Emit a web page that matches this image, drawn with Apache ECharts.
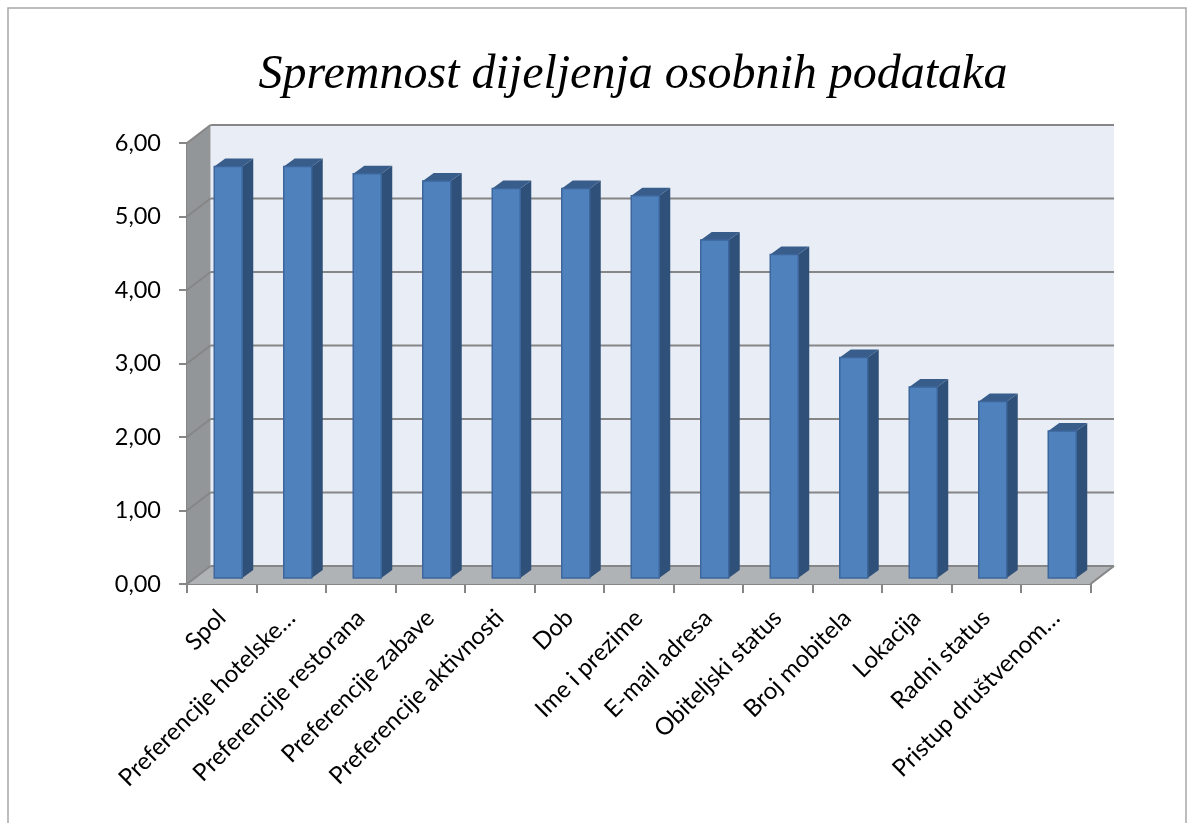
<!DOCTYPE html>
<html><head><meta charset="utf-8">
<style>html,body{margin:0;padding:0;background:#fff}#c{width:1195px;height:823px}</style>
<script src="https://cdn.jsdelivr.net/npm/echarts@6/dist/echarts.min.js"></script>
</head><body><div id="c"></div>
<script>
const categories = ["Spol","Preferencije hotelske…","Preferencije restorana","Preferencije zabave","Preferencije aktivnosti","Dob","Ime i prezime","E-mail adresa","Obiteljski status","Broj mobitela","Lokacija","Radni status","Pristup društvenom…"];
const values = [5.6,5.6,5.5,5.4,5.3,5.3,5.2,4.6,4.4,3.0,2.6,2.4,2.0];
const titleText = "Spremnost dijeljenja osobnih podataka";
const yTicks = [0,1,2,3,4,5,6];
const GRAY = "#868686";
const wallDx = 23.5, wallDy = -18;
const chart = echarts.init(document.getElementById('c'), null, {renderer:'canvas'});

function renderWalls(params, api){
  const r = params.coordSys, x0=r.x, x1=r.x+r.width, yb=r.y+r.height, yt=r.y;
  const poly=(pts,fill)=>({type:'polygon',shape:{points:pts},style:{fill:fill}});
  const line=(a,b)=>({type:'line',shape:{x1:a[0],y1:a[1],x2:b[0],y2:b[1]},style:{stroke:GRAY,lineWidth:2}});
  const ch=[
    poly([[x0+wallDx,yt+wallDy],[x1+wallDx,yt+wallDy],[x1+wallDx,yb+wallDy],[x0+wallDx,yb+wallDy]],'#e9edf6'),
    poly([[x0,yt],[x0+wallDx,yt+wallDy],[x0+wallDx,yb+wallDy],[x0,yb]],'#939699'),
    poly([[x0,yb],[x0+wallDx,yb+wallDy],[x1+wallDx,yb+wallDy],[x1,yb]],'#b0b3b6')
  ];
  yTicks.forEach(v=>{
    const y=api.coord([0,v])[1];
    ch.push(line([x0,y],[x0+wallDx,y+wallDy]));
    ch.push(line([x0+wallDx,y+wallDy],[x1+wallDx,y+wallDy]));
  });
  ch.push(line([x1,yb],[x1+wallDx,yb+wallDy]));
  return {type:'group',children:ch};
}
function renderBar(params, api){
  const p=api.coord([api.value(0),api.value(1)]);
  const b=api.coord([api.value(0),0]);
  const w=28,dx=11,dy=-8;
  const l=p[0]-7.5, r=l+w, t=p[1]-6, bt=b[1]-6;
  return {type:'group',children:[
    {type:'polygon',shape:{points:[[r,t],[r+dx,t+dy],[r+dx,bt+dy],[r,bt]]},style:{fill:'#2f5078'}},
    {type:'polygon',shape:{points:[[l,t],[l+dx,t+dy],[r+dx,t+dy],[r,t]]},style:{fill:'#385d8a'}},
    {type:'rect',shape:{x:l,y:t,width:w,height:bt-t},style:{fill:'#4f81bd',stroke:'#3c669c',lineWidth:1.5}}
  ]};
}
chart.setOption({
  animation:false,
  backgroundColor:'#fff',
  title:{text:titleText,left:628,top:46,textAlign:'center',textStyle:{fontFamily:'"Liberation Serif"',fontStyle:'italic',fontWeight:'normal',fontSize:48,color:'#000'}},
  graphic:[{type:'polyline',silent:true,z:-1,shape:{points:[[8,823],[8,8],[1186,8],[1186,823]]},style:{stroke:'#a8a8a8',fill:null,lineWidth:1.5}}],
  grid:{left:187,right:104.5,top:143,bottom:239,containLabel:false},
  xAxis:{type:'category',data:categories,
    axisLine:{show:true,lineStyle:{color:GRAY,width:2}},
    axisTick:{show:true,alignWithLabel:false,length:9,lineStyle:{color:GRAY,width:2}},
    axisLabel:{interval:0,rotate:45,fontFamily:'Lato',fontSize:24,color:'#000',margin:30},
    splitLine:{show:false}},
  yAxis:{type:'value',min:0,max:6,interval:1,
    axisLine:{show:true,lineStyle:{color:GRAY,width:2}},
    axisTick:{show:true,length:8,lineStyle:{color:GRAY,width:2}},
    axisLabel:{fontFamily:'Lato',fontSize:23.5,color:'#000',margin:26,formatter:v=>v.toFixed(2).replace('.',',')},
    splitLine:{show:false}},
  series:[
    {type:'custom',renderItem:renderWalls,data:[[0,0]],z:1,silent:true,clip:false},
    {type:'custom',renderItem:renderBar,data:values.map((v,i)=>[i,v]),encode:{x:0,y:1},z:3,clip:false}
  ]
});
</script></body></html>
